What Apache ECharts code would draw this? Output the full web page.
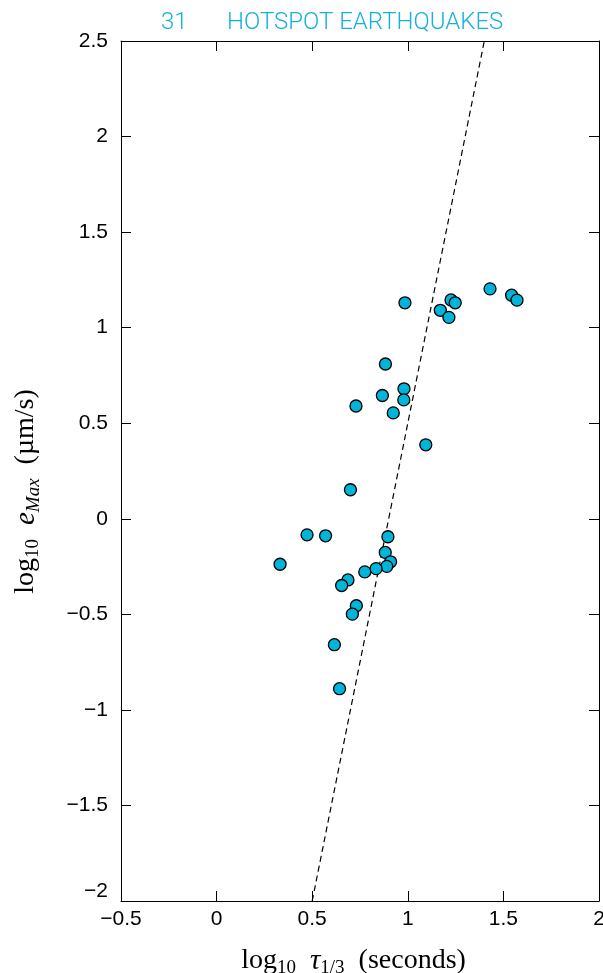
<!DOCTYPE html>
<html>
<head>
<meta charset="utf-8">
<script src="https://cdn.jsdelivr.net/npm/echarts@6/dist/echarts.min.js"></script>
<style>html,body{margin:0;padding:0;background:#fff;}#c{width:603px;height:973px;}</style>
</head>
<body>
<div id="c"></div>
<script>
// log10 tau_1/3 (seconds)
var tau = [0.332, 0.473, 0.570, 0.700, 0.729, 0.867, 0.883, 0.985, 0.980, 0.979, 0.924, 1.094,
           1.170, 1.226, 1.248, 1.215, 1.430, 1.543, 1.571, 0.896, 0.882, 0.910, 0.890, 0.834,
           0.775, 0.687, 0.654, 0.731, 0.710, 0.616, 0.643];
// log10 e_Max (um/s)
var emax = [-0.238, -0.084, -0.089, 0.152, 0.590, 0.645, 0.810, 1.130, 0.680, 0.622, 0.554, 0.387,
            1.091, 1.145, 1.130, 1.054, 1.203, 1.170, 1.144, -0.094, -0.176, -0.225, -0.249, -0.261,
            -0.278, -0.320, -0.349, -0.455, -0.499, -0.659, -0.889];
var fitX = [0.5, 1.4];
var fitY = [-2.0, 2.5];
var xTicks = {min: -0.5, max: 2, interval: 0.5};
var yTicks = {min: -2, max: 2.5, interval: 0.5};
var titleCount = '31';
var titleText = 'HOTSPOT EARTHQUAKES';

var pts = tau.map(function (t, i) { return [t, emax[i]]; });
var fitPts = fitX.map(function (x, i) { return [x, fitY[i]]; });

var minus = function (v) { return String(v).replace('-', '\u2212'); };
var yFmt = function (v) {
  var s = minus(v);
  return v === yTicks.min ? '{low|' + s + '}' : s;
};
var axisCommon = {
  axisLine: {show: true, onZero: false, lineStyle: {color: '#000', width: 1}},
  axisTick: {show: true, inside: true, length: 10, lineStyle: {color: '#000', width: 1}},
  splitLine: {show: false}
};
var lbl = {color: '#000', fontFamily: 'Liberation Sans', fontSize: 21};
var nameRich = {
  n: {fontFamily: 'Liberation Serif', fontSize: 28, lineHeight: 34, color: '#000'},
  s: {fontFamily: 'Liberation Serif', fontSize: 19, lineHeight: 19, color: '#000', verticalAlign: 'bottom'},
  i: {fontFamily: 'Liberation Serif', fontSize: 29, fontStyle: 'italic', lineHeight: 34, color: '#000'},
  si: {fontFamily: 'Liberation Serif', fontSize: 19, fontStyle: 'italic', lineHeight: 19, color: '#000', verticalAlign: 'bottom'}
};

var chart = echarts.init(document.getElementById('c'), null, {renderer: 'canvas'});
chart.setOption({
  animation: false,
  backgroundColor: '#fff',
  title: [
    {text: titleCount, left: 156, top: 6, textStyle: {color: '#14B2DC', fontFamily: 'Roboto', fontWeight: 300, fontSize: 24}},
    {text: titleText, left: 222, top: 6, textStyle: {color: '#14B2DC', fontFamily: 'Roboto', fontWeight: 300, fontSize: 24}}
  ],
  grid: {left: 121, right: 4, top: 41, bottom: 72, containLabel: false, outerBoundsMode: 'none'},
  xAxis: [
    Object.assign({
      type: 'value', position: 'bottom', min: xTicks.min, max: xTicks.max, interval: xTicks.interval,
      axisLabel: Object.assign({margin: 8, formatter: minus}, lbl),
      name: '{n|log}{s|10}{n|  }{i|\u03c4}{s|1/3}{n|  (seconds)}',
      nameLocation: 'middle', nameGap: 43,
      nameTextStyle: {rich: nameRich, padding: [0, 13, 0, 0]}
    }, axisCommon),
    Object.assign({
      type: 'value', position: 'top', min: xTicks.min, max: xTicks.max, interval: xTicks.interval,
      axisLabel: {show: false}
    }, axisCommon)
  ],
  yAxis: [
    Object.assign({
      type: 'value', position: 'left', min: yTicks.min, max: yTicks.max, interval: yTicks.interval,
      axisLabel: Object.assign({margin: 13, formatter: yFmt,
        rich: {low: {fontFamily: 'Liberation Sans', fontSize: 21, color: '#000', padding: [0, 0, 20, 0]}}}, lbl),
      name: '{n|log}{s|10}{n|  }{i|e}{si|Max}{n|  (\u00b5m/s)}',
      nameLocation: 'middle', nameGap: 78,
      nameTextStyle: {rich: nameRich, padding: [0, 41, 0, 0]}
    }, axisCommon),
    Object.assign({
      type: 'value', position: 'right', min: yTicks.min, max: yTicks.max, interval: yTicks.interval,
      axisLabel: {show: false}
    }, axisCommon)
  ],
  series: [
    {
      type: 'line', data: fitPts, symbol: 'none', silent: true, z: 1,
      lineStyle: {color: '#000', width: 1.2, type: [6, 4]}
    },
    {
      type: 'scatter', data: pts, symbol: 'circle', symbolSize: 12, z: 2,
      itemStyle: {color: '#00B4DA', borderColor: '#000', borderWidth: 1.3, opacity: 1}
    }
  ]
});
</script>
</body>
</html>
